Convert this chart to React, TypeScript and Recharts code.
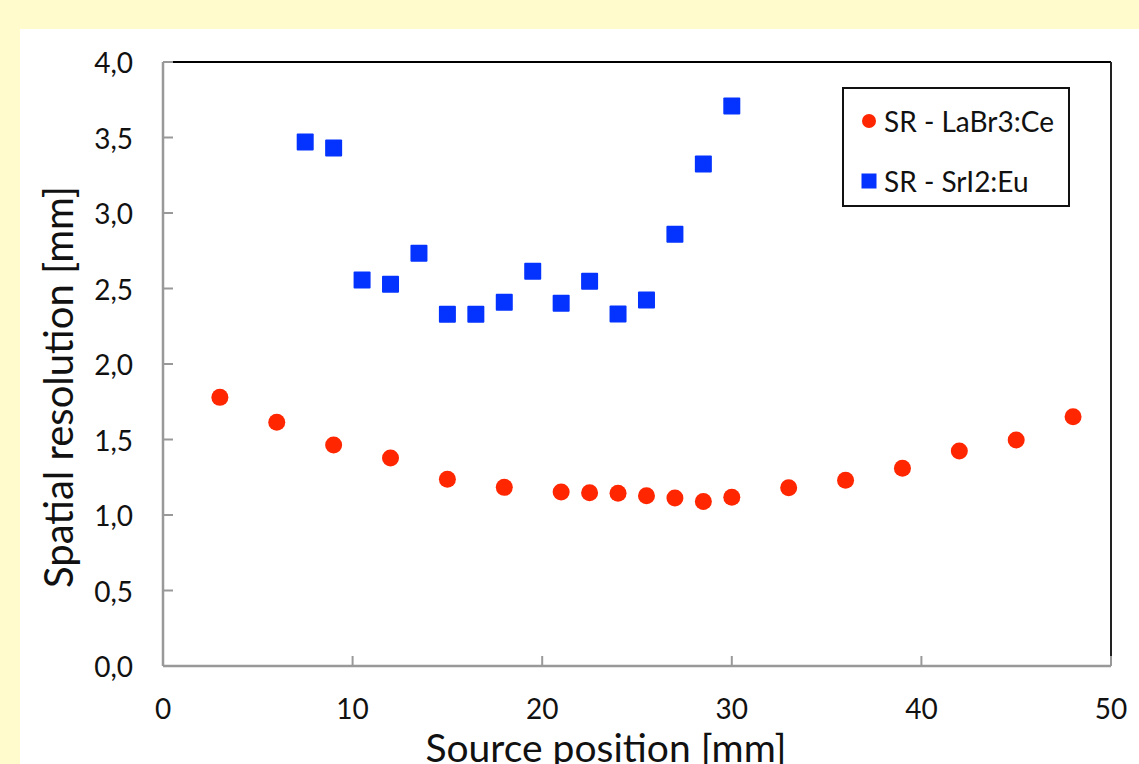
import React from 'react';
import { ScatterChart, Scatter, XAxis, YAxis, ReferenceLine } from 'recharts';

const laBrX = [3, 6, 9, 12, 15, 18, 21, 22.5, 24, 25.5, 27, 28.5, 30, 33, 36, 39, 42, 45, 48];
const laBrY = [1.779, 1.614, 1.464, 1.377, 1.236, 1.183, 1.152, 1.148, 1.144, 1.128, 1.113, 1.09, 1.117, 1.18, 1.23, 1.31, 1.424, 1.497, 1.65];
const srIX = [7.5, 9, 10.5, 12, 13.5, 15, 16.5, 18, 19.5, 21, 22.5, 24, 25.5, 27, 28.5, 30];
const srIY = [3.47, 3.43, 2.556, 2.528, 2.733, 2.33, 2.33, 2.409, 2.614, 2.402, 2.548, 2.331, 2.424, 2.859, 3.325, 3.709];
const xTicks = [0, 10, 20, 30, 40, 50];
const yTicks = [0, 0.5, 1, 1.5, 2, 2.5, 3, 3.5, 4];
const seriesNames = ['SR - LaBr3:Ce', 'SR - SrI2:Eu'];
const xTitle = 'Source position [mm]';
const yTitle = 'Spatial resolution [mm]';

const RED = '#FF2600';
const BLUE = '#0433FF';
const FONT = 'Lato, "Open Sans", sans-serif';

const laBrData = laBrX.map((x, i) => ({ x, y: laBrY[i] }));
const srIData = srIX.map((x, i) => ({ x, y: srIY[i] }));

const fmt = (v: number) => v.toFixed(1).replace('.', ',');

const YTick = (props: any) => {
  const { x, y, payload } = props;
  return (
    <g>
      <line x1={x} y1={y} x2={x + 10} y2={y} stroke="#999" strokeWidth={2} />
      <text x={x - 30} y={y} textAnchor="end" dominantBaseline="central" fontSize={28} fontFamily={FONT} fill="#111">
        {fmt(payload.value)}
      </text>
    </g>
  );
};

const XTick = (props: any) => {
  const { x, y, payload } = props;
  return (
    <g>
      <line x1={x} y1={y} x2={x} y2={y - 10} stroke="#999" strokeWidth={2} />
      <text x={x} y={y + 42} textAnchor="middle" dominantBaseline="central" fontSize={28} fontFamily={FONT} fill="#111">
        {payload.value}
      </text>
    </g>
  );
};

const Circle = (props: any) => <circle cx={props.cx} cy={props.cy} r={8.5} fill={RED} />;
const Square = (props: any) => <rect x={props.cx - 8.5} y={props.cy - 8.5} width={17} height={17} rx={1} fill={BLUE} />;

export default function App() {
  return (
    <div style={{ position: 'absolute', left: 0, top: 0, width: 1139, height: 764, background: '#FFFBCC', overflow: 'hidden', fontFamily: FONT }}>
      <div style={{ position: 'absolute', left: 20, top: 29, right: 0, bottom: 0, background: '#fff' }} />
      <div style={{ position: 'absolute', left: 0, top: 0 }}>
        <ScatterChart width={1139} height={764} margin={{ top: 62, right: 28, bottom: 38, left: 63 }}>
          <XAxis
            type="number"
            dataKey="x"
            domain={[0, 50]}
            ticks={xTicks}
            tick={<XTick />}
            tickLine={false}
            tickSize={0}
            tickMargin={0}
            height={60}
            axisLine={{ stroke: '#999', strokeWidth: 2.5 }}
            allowDecimals
          />
          <YAxis
            type="number"
            dataKey="y"
            domain={[0, 4]}
            ticks={yTicks}
            tick={<YTick />}
            tickLine={false}
            tickSize={0}
            tickMargin={0}
            width={100}
            axisLine={{ stroke: '#999', strokeWidth: 2.5 }}
          />
          <ReferenceLine y={4} stroke="#000" strokeWidth={2} ifOverflow="extendDomain" />
          <ReferenceLine x={50} stroke="#222" strokeWidth={2} ifOverflow="extendDomain" />
          <Scatter name={seriesNames[0]} data={laBrData} shape={<Circle />} isAnimationActive={false} />
          <Scatter name={seriesNames[1]} data={srIData} shape={<Square />} isAnimationActive={false} />
        </ScatterChart>
      </div>
      <svg width={1139} height={764} style={{ position: 'absolute', left: 0, top: 0, pointerEvents: 'none' }}>
        <text x={606} y={762} textAnchor="middle" fontSize={39} fontFamily={FONT} fill="#111">{xTitle}</text>
        <text transform="translate(73,387) rotate(-90)" textAnchor="middle" fontSize={40} fontFamily={FONT} fill="#111">{yTitle}</text>
      </svg>
      <div style={{ position: 'absolute', left: 842, top: 87, width: 224, height: 116, border: '2px solid #111', background: '#fff' }}>
        <div style={{ position: 'absolute', left: 17, top: 16, display: 'flex', alignItems: 'center', whiteSpace: 'nowrap' }}>
          <svg width={16} height={16}><circle cx={8} cy={8} r={7} fill={RED} /></svg>
          <span style={{ marginLeft: 7, fontSize: 28, color: '#111', lineHeight: '32px' }}>{seriesNames[0]}</span>
        </div>
        <div style={{ position: 'absolute', left: 17, top: 76, display: 'flex', alignItems: 'center', whiteSpace: 'nowrap' }}>
          <svg width={16} height={16}><rect x={0.5} y={0.5} width={15} height={15} fill={BLUE} /></svg>
          <span style={{ marginLeft: 7, fontSize: 28, color: '#111', lineHeight: '32px' }}>{seriesNames[1]}</span>
        </div>
      </div>
    </div>
  );
}
